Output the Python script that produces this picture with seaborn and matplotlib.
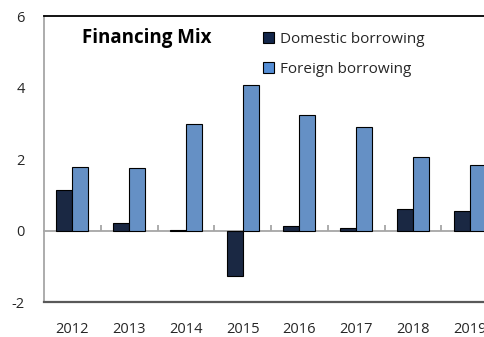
import matplotlib
matplotlib.use("Agg")
import matplotlib.pyplot as plt
import matplotlib.patches as mpatches
import seaborn as sns
import pandas as pd

years = ["2012", "2013", "2014", "2015", "2016", "2017", "2018", "2019"]
domestic = [1.14, 0.22, 0.03, -1.26, 0.14, 0.07, 0.61, 0.54]
foreign = [1.78, 1.75, 2.98, 4.07, 3.24, 2.89, 2.07, 1.85]
series_names = ["Domestic borrowing", "Foreign borrowing"]
y_ticks = [-2, 0, 2, 4, 6]

colors = {"Domestic borrowing": "#13264A", "Foreign borrowing": "#558ED5"}

df = pd.DataFrame({
    "year": years * 2,
    "value": domestic + foreign,
    "series": [series_names[0]] * len(years) + [series_names[1]] * len(years),
})

sns.set_style("white")
plt.rcParams["font.family"] = ["Open Sans", "DejaVu Sans"]
plt.rcParams["axes.unicode_minus"] = False

W, H = 484, 337
fig = plt.figure(figsize=(W / 100, H / 100), dpi=100)
left, right, top, bottom = 44, 498, 16, 302.3
ax = fig.add_axes([left / W, 1 - bottom / H, (right - left) / W, (bottom - top) / H])

sns.barplot(data=df, x="year", y="value", hue="series", order=years,
            hue_order=series_names, palette=colors, width=0.56, gap=0,
            edgecolor="black", linewidth=0.8, legend=False, ax=ax)

ax.set_xlim(-0.5, len(years) - 0.5)
ax.set_ylim(-2, 6)
ax.set_yticks(y_ticks)
ax.set_xlabel("")
ax.set_ylabel("")

# spines
ax.spines["top"].set_color("black")
ax.spines["top"].set_linewidth(1.3)
ax.spines["right"].set_visible(False)
ax.spines["left"].set_color("#A6A6A6")
ax.spines["left"].set_linewidth(1.3)
ax.spines["bottom"].set_color("#595959")
ax.spines["bottom"].set_linewidth(1.6)

ax.tick_params(axis="y", direction="in", length=6, width=1.3, color="#A6A6A6",
               labelsize=10.5, pad=14, labelcolor="#262626")
ax.tick_params(axis="x", length=0, labelsize=10.5, pad=14, labelcolor="#262626")

# zero line with category separators
zero = ax.secondary_xaxis(2 / 8)
zero.set_xticks([i + 0.5 for i in range(len(years) - 1)])
zero.tick_params(direction="in", length=4, width=1.3, color="#A6A6A6", labelbottom=False)
zero.spines["bottom"].set_color("#A6A6A6")
zero.spines["bottom"].set_linewidth(1.3)

# title and legend
fig.text(82 / W, 1 - 43 / H, "Financing Mix", fontsize=13.5, fontweight="bold",
         va="baseline", ha="left", color="black")

handles = [mpatches.Patch(facecolor=colors[s], edgecolor="black", linewidth=0.8, label=s)
           for s in series_names]
fig.legend(handles=handles, loc="upper left", bbox_to_anchor=(263 / W, 1 - 32 / H),
           frameon=False, fontsize=11, handlelength=0.75, handleheight=0.75,
           handletextpad=0.35, labelspacing=0.95, borderpad=0, borderaxespad=0,
           labelcolor="#262626")

fig.savefig("out.png", dpi=100)
